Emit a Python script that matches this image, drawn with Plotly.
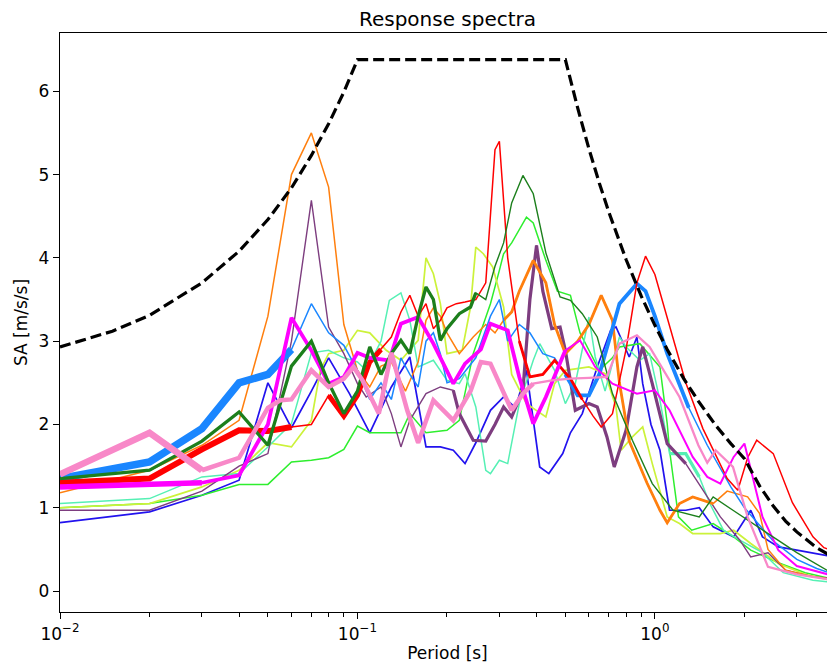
import plotly.graph_objects as go

# ---------------- data ----------------
design_T = [0.01, 0.015, 0.02, 0.03, 0.04, 0.05, 0.06, 0.07, 0.08, 0.09, 0.1, 0.5, 0.55, 0.6, 0.65, 0.7,
            0.8, 0.9, 1.0, 1.1, 1.25, 1.4, 1.6, 1.8, 2.0, 2.25, 2.5, 2.75, 3.0, 3.5, 4.0]
design_SA = [2.93, 3.12, 3.31, 3.70, 4.08, 4.46, 4.84, 5.23, 5.61, 5.99, 6.38, 6.38, 5.80, 5.31, 4.90, 4.55,
             3.98, 3.54, 3.19, 2.90, 2.55, 2.28, 1.99, 1.77, 1.59, 1.26, 1.02, 0.84, 0.71, 0.52, 0.40]

orange_T = [0.01, 0.02, 0.03, 0.04, 0.05, 0.06, 0.07, 0.08, 0.09, 0.1, 0.11, 0.12, 0.13, 0.145, 0.16, 0.17,
            0.18, 0.19, 0.2, 0.22, 0.245, 0.27, 0.29, 0.31, 0.33, 0.35, 0.39, 0.43, 0.46, 0.5, 0.55, 0.6,
            0.66, 0.72, 0.76, 0.82, 0.94, 1.04, 1.1, 1.21, 1.34, 1.57, 1.75, 2.05, 2.25, 2.4, 2.75, 3.3, 4.0]
orange_SA = [1.18, 1.45, 1.75, 2.05, 3.3, 5.0, 5.5, 4.85, 3.2, 2.65, 2.45, 2.7, 2.75, 2.4, 2.75, 3.25,
             3.4, 3.3, 3.1, 2.85, 3.05, 3.2, 3.1, 3.25, 3.35, 3.6, 3.97, 3.7, 3.2, 2.85, 3.0, 3.2,
             3.55, 3.25, 2.5, 1.8, 1.3, 0.97, 0.82, 1.05, 1.13, 1.05, 1.2, 1.13, 0.93, 0.5, 0.25, 0.18, 0.14]

red_T = [0.01, 0.02, 0.03, 0.04, 0.05, 0.06, 0.07, 0.08, 0.09, 0.1, 0.11, 0.12, 0.13, 0.14, 0.15, 0.16,
         0.17, 0.18, 0.19, 0.2, 0.215, 0.23, 0.25, 0.27, 0.29, 0.3, 0.32, 0.35, 0.38, 0.42, 0.46, 0.52,
         0.57, 0.62, 0.66, 0.72, 0.8, 0.87, 0.93, 1.0, 1.1, 1.27, 1.45, 1.57, 1.75, 1.9, 2.05, 2.2, 2.5,
         2.9, 3.4, 3.7, 4.0]
red_SA = [1.3, 1.35, 1.7, 1.93, 1.92, 1.97, 2.0, 2.35, 2.1, 2.35, 2.75, 2.9, 3.05, 3.35, 3.55, 3.3,
          3.45, 3.15, 3.25, 3.4, 3.45, 3.47, 3.5, 3.7, 5.3, 5.4, 4.0, 3.0, 2.57, 2.6, 2.77, 2.55,
          2.3, 2.1, 1.97, 2.13, 2.9, 3.7, 4.02, 3.8, 3.29, 2.5, 1.95, 1.69, 1.35, 1.21, 1.6, 1.81, 1.65,
          1.06, 0.65, 0.52, 0.48]

dblue_T = [0.01, 0.02, 0.03, 0.04, 0.05, 0.06, 0.07, 0.08, 0.09, 0.1, 0.11, 0.12, 0.13, 0.14, 0.15, 0.16,
           0.17, 0.18, 0.19, 0.2, 0.22, 0.25, 0.28, 0.3, 0.32, 0.35, 0.38, 0.42, 0.46, 0.5, 0.55, 0.6,
           0.65, 0.7, 0.76, 0.87, 0.93, 1.0, 1.1, 1.3, 1.5, 1.8, 2.0, 2.5, 3.0, 3.5, 4.0]
dblue_SA = [1.35, 1.55, 1.95, 2.5, 2.6, 2.9, 3.45, 3.1, 2.95, 2.65, 2.3, 2.5, 2.3, 2.8, 2.6, 2.45,
            3.0, 3.1, 2.85, 2.5, 2.55, 2.8, 3.3, 3.5, 3.0, 3.2, 3.1, 2.85, 2.8, 2.6, 2.35, 2.35,
            2.6, 3.0, 3.45, 3.69, 3.6, 3.3, 2.85, 2.2, 1.75, 1.25, 1.0, 0.6, 0.38, 0.27, 0.2]

pink_T = [0.01, 0.02, 0.03, 0.04, 0.05, 0.055, 0.06, 0.07, 0.08, 0.09, 0.097, 0.104, 0.118, 0.13, 0.147,
          0.16, 0.18, 0.21, 0.24, 0.26, 0.28, 0.31, 0.33, 0.36, 0.39, 0.45, 0.52, 0.6, 0.69, 0.76, 0.87,
          0.96, 1.05, 1.21, 1.4, 1.5, 1.6, 1.7, 1.83, 2.05, 2.4, 3.0, 4.0]
pink_SA = [1.4, 1.9, 1.45, 1.6, 2.2, 2.29, 2.3, 2.65, 2.45, 2.55, 2.69, 2.53, 2.13, 2.86, 2.17,
           1.78, 2.29, 2.05, 2.4, 2.75, 2.73, 2.37, 2.17, 2.37, 2.49, 2.53, 2.55, 2.56, 2.57, 2.97, 3.07,
           2.93, 2.7, 2.33, 1.75, 1.54, 1.69, 1.6, 1.49, 0.89, 0.29, 0.2, 0.13]

magenta_T = [0.01, 0.02, 0.03, 0.04, 0.05, 0.06, 0.07, 0.08, 0.09, 0.1, 0.11, 0.128, 0.14, 0.16, 0.18,
             0.2, 0.21, 0.23, 0.26, 0.28, 0.32, 0.35, 0.39, 0.43, 0.5, 0.56, 0.63, 0.72, 0.87, 1.0,
             1.12, 1.34, 1.5, 1.66, 1.84, 2.0, 2.1, 2.3, 2.6, 3.0, 4.0]
magenta_SA = [1.25, 1.28, 1.3, 1.39, 2.0, 3.28, 2.89, 2.49, 2.57, 2.86, 2.8, 2.77, 3.21, 3.29, 2.97,
              2.65, 2.49, 2.73, 2.9, 3.21, 3.13, 2.57, 2.01, 2.33, 2.89, 3.01, 2.69, 2.49, 2.37, 2.41,
              2.17, 1.61, 1.37, 1.29, 1.61, 1.77, 1.45, 0.89, 0.49, 0.3, 0.18]

green_T = [0.01, 0.02, 0.03, 0.04, 0.05, 0.06, 0.07, 0.08, 0.09, 0.1, 0.11, 0.12, 0.13, 0.14, 0.15, 0.16,
           0.17, 0.18, 0.19, 0.2, 0.22, 0.24, 0.25, 0.27, 0.29, 0.31, 0.33, 0.36, 0.39, 0.43, 0.48, 0.52,
           0.57, 0.64, 0.72, 0.84, 0.98, 1.15, 1.41, 1.57, 1.83, 2.3, 3.0, 4.0]
green_SA = [1.35, 1.45, 1.8, 2.15, 1.75, 2.7, 3.0, 2.5, 2.13, 2.4, 2.93, 2.6, 2.85, 3.01, 2.85, 3.3,
            3.65, 3.5, 3.01, 3.15, 3.33, 3.41, 3.58, 3.5, 3.9, 4.18, 4.66, 4.99, 4.77, 4.06, 3.53, 3.49,
            3.33, 3.05, 2.37, 1.81, 1.29, 0.97, 0.89, 1.13, 0.97, 0.73, 0.46, 0.2]

lime_T = [0.01, 0.02, 0.03, 0.04, 0.05, 0.06, 0.07, 0.08, 0.09, 0.1, 0.11, 0.14, 0.15, 0.17, 0.2, 0.22,
          0.245, 0.28, 0.3, 0.31, 0.33, 0.37, 0.39, 0.43, 0.47, 0.52, 0.56, 0.6, 0.65, 0.72, 0.76, 0.89,
          1.04, 1.1, 1.12, 1.2, 1.33, 1.57, 1.84, 2.1, 2.6, 3.2, 4.0]
lime_SA = [1.0, 1.05, 1.15, 1.28, 1.28, 1.55, 1.57, 1.6, 1.7, 1.98, 1.9, 1.9, 2.13, 1.9, 1.93, 2.05,
           2.85, 3.45, 3.85, 4.05, 4.18, 4.49, 4.42, 3.97, 3.6, 3.55, 3.1, 2.9, 2.65, 2.8, 2.93, 2.97,
           2.69, 2.01, 1.69, 0.89, 0.73, 0.81, 0.65, 0.49, 0.34, 0.22, 0.14]

blue_T = [0.01, 0.02, 0.03, 0.04, 0.05, 0.06, 0.07, 0.08, 0.094, 0.11, 0.13, 0.15, 0.17, 0.19, 0.21, 0.22,
          0.23, 0.25, 0.28, 0.31, 0.34, 0.37, 0.41, 0.44, 0.49, 0.52, 0.57, 0.64, 0.71, 0.74, 0.82, 0.87,
          0.91, 0.97, 1.04, 1.12, 1.27, 1.41, 1.57, 1.84, 2.1, 2.3, 2.6, 3.0, 3.5, 4.0]
blue_SA = [0.82, 0.95, 1.15, 1.33, 2.5, 1.96, 2.4, 2.8, 2.37, 1.9, 2.45, 2.81, 1.73, 1.73, 1.69, 1.61,
           1.53, 1.78, 2.17, 2.33, 2.2, 2.65, 1.49, 1.41, 1.65, 1.9, 2.13, 2.69, 3.13, 3.17, 2.81, 3.05,
           2.49, 2.0, 1.69, 0.97, 0.97, 1.0, 0.77, 0.65, 0.97, 0.65, 0.53, 0.49, 0.45, 0.41]

purple_T = [0.01, 0.02, 0.03, 0.04, 0.05, 0.06, 0.07, 0.08, 0.09, 0.1, 0.107, 0.12, 0.13, 0.14, 0.15, 0.17,
            0.19, 0.21, 0.22, 0.245, 0.27, 0.29, 0.31, 0.33, 0.36, 0.38, 0.4, 0.42, 0.45, 0.48, 0.5, 0.54,
            0.6, 0.64, 0.69, 0.73, 0.8, 0.87, 0.91, 0.98, 1.1, 1.27, 1.5, 1.66, 1.93, 2.1, 2.4, 2.75,
            3.4, 4.0]
purple_SA = [0.97, 0.97, 1.2, 1.5, 1.65, 3.0, 4.69, 3.17, 2.85, 2.49, 2.33, 2.45, 2.13, 1.73, 2.05, 2.37,
             2.45, 2.41, 2.13, 1.81, 1.8, 2.0, 2.21, 2.09, 2.41, 3.5, 4.15, 3.6, 3.15, 3.17, 2.89, 2.17,
             2.25, 2.21, 1.85, 1.49, 1.93, 2.69, 2.93, 2.49, 1.77, 1.53, 1.13, 0.89, 0.61, 0.41, 0.46, 0.25,
             0.17, 0.15]

ygreen_T = [0.01, 0.02, 0.03, 0.04, 0.05, 0.06, 0.07, 0.075, 0.08, 0.09, 0.1, 0.11, 0.125, 0.14, 0.16, 0.17,
            0.18, 0.19, 0.2, 0.225, 0.24, 0.25, 0.265, 0.285, 0.31, 0.32, 0.33, 0.37, 0.43, 0.46, 0.5, 0.6,
            0.68, 0.74, 0.77, 0.84, 0.91, 0.98, 1.1, 1.21, 1.34, 1.66, 1.84, 2.1, 2.6, 3.2, 4.0]
ygreen_SA = [1.0, 1.05, 1.25, 1.45, 1.78, 1.73, 2.05, 2.65, 2.85, 2.89, 3.13, 3.1, 2.89, 2.77, 3.01, 4.0,
             3.81, 3.45, 2.85, 2.89, 3.41, 4.13, 4.05, 3.89, 3.41, 3.01, 2.6, 2.25, 2.09, 2.49, 2.65, 2.69,
             2.61, 2.21, 1.69, 1.85, 1.97, 1.53, 0.89, 0.81, 0.69, 0.69, 0.73, 0.57, 0.33, 0.2, 0.12]

aqua_T = [0.01, 0.02, 0.03, 0.04, 0.05, 0.06, 0.07, 0.08, 0.09, 0.1, 0.107, 0.12, 0.128, 0.14, 0.15, 0.16,
          0.18, 0.2, 0.22, 0.23, 0.25, 0.27, 0.28, 0.3, 0.32, 0.35, 0.39, 0.41, 0.46, 0.5, 0.54, 0.6,
          0.63, 0.68, 0.76, 0.8, 0.89, 0.96, 1.04, 1.12, 1.27, 1.41, 1.53, 1.7, 1.93, 2.3, 2.7, 3.4, 4.0]
aqua_SA = [1.05, 1.11, 1.37, 1.41, 1.73, 2.01, 2.86, 2.89, 2.8, 2.75, 2.65, 3.0, 3.49, 3.58, 3.25, 2.69,
           2.77, 2.53, 2.49, 2.61, 2.21, 1.45, 1.41, 1.57, 1.53, 2.25, 2.77, 2.97, 2.65, 2.25, 2.49, 3.29,
           2.81, 2.4, 3.05, 2.93, 2.77, 2.85, 2.29, 1.65, 1.65, 1.37, 1.05, 0.73, 0.61, 0.46, 0.22, 0.13, 0.1]

# ---------------- styling ----------------
series = [
    # name, T, SA, color, base width, [(tmin, tmax, thick width)]
    ("blue", blue_T, blue_SA, "#2212ee", 1.7, []),
    ("lime", lime_T, lime_SA, "#2eee2e", 1.5, []),
    ("ygreen", ygreen_T, ygreen_SA, "#ccf23a", 1.7, []),
    ("aqua", aqua_T, aqua_SA, "#55f0b4", 1.5, [(1.1, 1.45, 3.2)]),
    ("purple", purple_T, purple_SA, "#7d3d7f", 1.4, [(0.2, 1.3, 3.2)]),
    ("orange", orange_T, orange_SA, "#ff7f0e", 1.5, [(0.3, 1.6, 2.8)]),
    ("dblue", dblue_T, dblue_SA, "#1a86ff", 1.5, [(0.01, 0.06, 7.5), (0.5, 1.3, 3.8)]),
    ("red", red_T, red_SA, "#ff0000", 1.5, [(0.01, 0.06, 6.0), (0.08, 0.12, 5.0), (0.35, 0.6, 2.8)]),
    ("magenta", magenta_T, magenta_SA, "#ff00ff", 2.0, [(0.01, 0.03, 5.5), (0.03, 0.5, 3.8)]),
    ("green", green_T, green_SA, "#1c7f1c", 1.4, [(0.01, 0.25, 3.3)]),
    ("pink", pink_T, pink_SA, "#f888c8", 2.3, [(0.01, 0.03, 6.5), (0.03, 0.4, 4.5)]),
]

fig = go.Figure()
for name, T, SA, color, w, thick in series:
    fig.add_trace(go.Scatter(x=T, y=SA, mode="lines", line=dict(color=color, width=w),
                             showlegend=False, hoverinfo="skip"))
    for tmin, tmax, tw in thick:
        idx = [i for i, t in enumerate(T) if tmin <= t <= tmax]
        fig.add_trace(go.Scatter(x=[T[i] for i in idx], y=[SA[i] for i in idx], mode="lines",
                                 line=dict(color=color, width=tw), showlegend=False, hoverinfo="skip"))

fig.add_trace(go.Scatter(x=design_T, y=design_SA, mode="lines",
                         line=dict(color="black", width=3.2, dash="11px,5px"),
                         showlegend=False, hoverinfo="skip"))

x_tickvals = [0.01, 0.1, 1]
x_ticktext = ["10<sup>−2</sup>", "10<sup>−1</sup>", "10<sup>0</sup>"]
x_minor = [0.02, 0.03, 0.04, 0.05, 0.06, 0.07, 0.08, 0.09, 0.2, 0.3, 0.4, 0.5, 0.6, 0.7, 0.8, 0.9, 2, 3, 4]

# the page body adds an 8px offset, so the figure is sized to fit the window
fig.update_layout(
    width=827, height=660,
    margin=dict(l=52, r=0, t=25, b=56, autoexpand=False),
    paper_bgcolor="white", plot_bgcolor="white",
    font=dict(family="DejaVu Sans", size=17, color="black"),
    title=dict(text="Response spectra", x=0.5, xref="paper", xanchor="center",
               y=1 - 11 / 660, yref="container", yanchor="middle", font=dict(size=20)),
)
fig.update_xaxes(
    type="log", range=[-2, 0.6055], automargin=False,
    tickmode="array", tickvals=x_tickvals, ticktext=x_ticktext,
    ticks="outside", ticklen=6, tickwidth=1.2, tickcolor="black",
    minor=dict(tickmode="array", tickvals=x_minor, ticks="outside", ticklen=3.5, tickwidth=1, tickcolor="black"),
    showline=True, linecolor="black", linewidth=1.3, mirror=True,
    showgrid=False, zeroline=False,
    title=dict(text="Period [s]", font=dict(size=17), standoff=4),
    tickfont=dict(size=17),
)
fig.update_yaxes(
    range=[-0.252, 6.70], automargin=False,
    tickmode="array", tickvals=[0, 1, 2, 3, 4, 5, 6],
    ticks="outside", ticklen=6, tickwidth=1.2, tickcolor="black",
    showline=True, linecolor="black", linewidth=1.3, mirror=True,
    showgrid=False, zeroline=False,
    title=dict(text="SA [m/s/s]", font=dict(size=17), standoff=6),
    tickfont=dict(size=17),
)

fig.write_html("out.html")
